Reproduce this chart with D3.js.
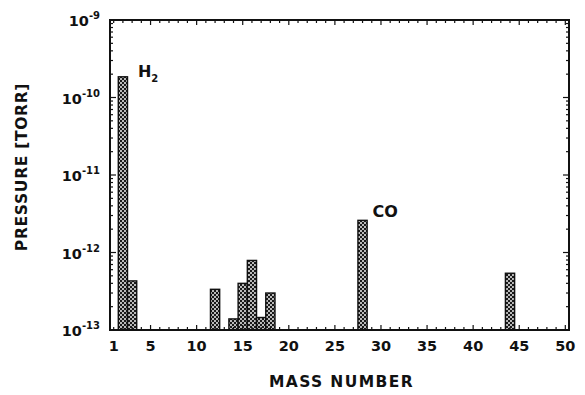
<!DOCTYPE html>
<html>
<head>
<meta charset="utf-8">
<script src="https://cdn.jsdelivr.net/npm/d3@7"></script>
<style>
  body { margin: 0; background: #fff; }
  svg text { font-family: "DejaVu Sans", "Liberation Sans", Arial, sans-serif; font-weight: bold; fill: #111; }
</style>
</head>
<body>
<div id="chart"></div>
<script>
// residual gas spectrum: mass number and partial pressure (torr)
const massNumbers = [2, 3, 12, 14, 15, 16, 17, 18, 28, 44];
const pressures = [1.85e-10, 4.3e-13, 3.35e-13, 1.39e-13, 4.0e-13, 7.9e-13, 1.45e-13, 3.0e-13, 2.6e-12, 5.4e-13];
const xTickLabels = [1, 5, 10, 15, 20, 25, 30, 35, 40, 45, 50];
const yTickExponents = [-9, -10, -11, -12, -13];
const peakLabels = [
  { mass: 2, value: 1.85e-10, text: 'H', sub: '2' },
  { mass: 28, value: 2.6e-12, text: 'CO', sub: '' }
];

const width = 585, height = 395;
const margin = { top: 20, right: 16, bottom: 65, left: 110 };
const innerW = width - margin.left - margin.right;
const innerH = height - margin.top - margin.bottom;

const svg = d3.select('#chart')
  .append('svg')
  .attr('width', width)
  .attr('height', height);

// dotted fill used for the bars
const defs = svg.append('defs');
const pat = defs.append('pattern')
  .attr('id', 'dots')
  .attr('patternUnits', 'userSpaceOnUse')
  .attr('width', 4)
  .attr('height', 4);
pat.append('rect').attr('width', 4).attr('height', 4).attr('fill', '#1a1a1a');
pat.append('circle').attr('cx', 1).attr('cy', 1).attr('r', 0.95).attr('fill', '#fff');
pat.append('circle').attr('cx', 3).attr('cy', 3).attr('r', 0.95).attr('fill', '#fff');

const g = svg.append('g')
  .attr('transform', `translate(${margin.left},${margin.top})`);

const x = d3.scaleLinear()
  .domain([0.6, 50.4])
  .range([0, innerW]);

const y = d3.scaleLog()
  .domain([1e-13, 1e-9])
  .range([innerH, 0]);

// bars, one mass unit wide, centred on the mass number
g.selectAll('.bar')
  .data(massNumbers.map((m, i) => ({ m: m, v: pressures[i] })))
  .enter()
  .append('rect')
  .attr('class', 'bar')
  .attr('x', d => x(d.m - 0.5))
  .attr('width', d => x(d.m + 0.5) - x(d.m - 0.5))
  .attr('y', d => y(d.v))
  .attr('height', d => innerH - y(d.v))
  .attr('fill', 'url(#dots)')
  .attr('stroke', '#111')
  .attr('stroke-width', 1.4);

// minor ticks, pointing inwards
const xUnits = d3.range(1, 51);
const yMinor = [];
yTickExponents.forEach(e => {
  if (e === -9) return;
  for (let k = 1; k <= 9; k++) yMinor.push(k * Math.pow(10, e));
});
yMinor.push(1e-9);

const tickG = g.append('g').attr('stroke', '#111').attr('stroke-width', 1.2);
xUnits.forEach(u => {
  const len = u % 5 === 0 ? 5 : 3;
  tickG.append('line').attr('x1', x(u)).attr('x2', x(u)).attr('y1', innerH).attr('y2', innerH - len);
  tickG.append('line').attr('x1', x(u)).attr('x2', x(u)).attr('y1', 0).attr('y2', len);
});
yMinor.forEach(v => {
  const major = Math.abs(Math.log10(v) - Math.round(Math.log10(v))) < 1e-9;
  const len = major ? 6 : 3;
  tickG.append('line').attr('x1', 0).attr('x2', len).attr('y1', y(v)).attr('y2', y(v));
  tickG.append('line').attr('x1', innerW).attr('x2', innerW - len).attr('y1', y(v)).attr('y2', y(v));
});

// frame
g.append('rect')
  .attr('width', innerW)
  .attr('height', innerH)
  .attr('fill', 'none')
  .attr('stroke', '#111')
  .attr('stroke-width', 2);

// x tick labels
g.selectAll('.xlab')
  .data(xTickLabels)
  .enter()
  .append('text')
  .attr('class', 'xlab')
  .attr('x', d => x(d))
  .attr('y', innerH + 21)
  .attr('text-anchor', 'middle')
  .style('font-size', '14.5px')
  .text(d => d);

// y tick labels as 10 with superscript exponent
const ylab = g.selectAll('.ylab')
  .data(yTickExponents)
  .enter()
  .append('text')
  .attr('class', 'ylab')
  .attr('x', -10)
  .attr('y', d => y(Math.pow(10, d)) + 6)
  .attr('text-anchor', 'end')
  .style('font-size', '14.5px');
ylab.append('tspan').text('10');
ylab.append('tspan')
  .attr('dy', -7)
  .style('font-size', '10px')
  .text(d => '-' + Math.abs(d));

// peak labels
const pl = g.selectAll('.peak')
  .data(peakLabels)
  .enter()
  .append('text')
  .attr('class', 'peak')
  .attr('x', d => x(d.mass) + (d.sub ? 15 : 10))
  .attr('y', d => y(d.value) - 3 + (d.sub ? 3 : 0))
  .style('font-size', '16px');
pl.append('tspan').text(d => d.text);
pl.append('tspan')
  .attr('dy', 5)
  .style('font-size', '10px')
  .text(d => d.sub);

// axis titles
svg.append('text')
  .attr('x', margin.left + innerW / 2 + 2)
  .attr('y', 387)
  .attr('text-anchor', 'middle')
  .style('font-size', '15.5px')
  .style('letter-spacing', '1.4px')
  .text('MASS NUMBER');

svg.append('text')
  .attr('transform', 'translate(27,167) rotate(-90)')
  .attr('text-anchor', 'middle')
  .style('font-size', '15.5px')
  .style('letter-spacing', '0.7px')
  .text('PRESSURE [TORR]');
</script>
</body>
</html>
